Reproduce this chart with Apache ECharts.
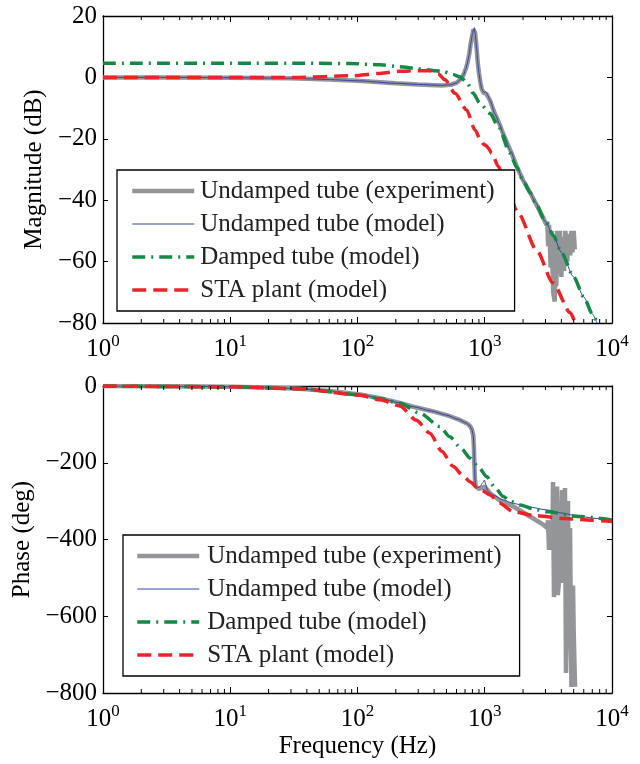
<!DOCTYPE html>
<html><head><meta charset="utf-8">
<script src="https://cdn.jsdelivr.net/npm/echarts@6/dist/echarts.min.js"></script>
<style>html,body{margin:0;padding:0;background:#fff}#c{width:640px;height:764px}</style>
</head><body><div id="c"></div>
<script>
const seriesNames = ['Undamped tube (experiment)', 'Undamped tube (model)', 'Damped tube (model)', 'STA plant (model)'];
const magTicks = [-80, 20, 20];      // min, max, interval
const phaseTicks = [-800, 0, 200];
const minorTickFreqs = [2,3,4,5,6,7,8,9,20,30,40,50,60,70,80,90,200,300,400,500,600,700,800,900,2000,3000,4000,5000,6000,7000,8000,9000];

// Magnitude (dB) vs frequency (Hz)
const magExp = [[1,0],[3,0],[10,-0.1],[30,-0.3],[60,-0.7],[100,-1.1],[200,-1.9],[300,-2.3],[460,-2.6],[540,-2.4],[600,-1.8],[650,-0.5],[680,0.8],[710,2.8],[730,4.6],[755,7.5],[775,11],[800,14],[815,15.6],[828,16.2],[840,14.5],[852,12],[865,9],[880,5],[900,1.5],[925,-1.8],[946,-3.8],[975,-4.9],[995,-5.2],[1010,-5.0],[1030,-5.4],[1060,-6.3],[1100,-7.5],[1205,-12],[1300,-15],[1400,-18.5],[1600,-24],[1783,-29],[2000,-33.5],[2270,-37.5],[2480,-40.5],[2900,-46],[3050,-48],[3100,-47],[3150,-55],[3200,-48],[3300,-62],[3350,-50],[3450,-70],[3550,-73],[3600,-52],[3650,-68],[3700,-50],[3800,-64],[3900,-50],[4000,-65],[4100,-52],[4200,-63],[4300,-50],[4450,-60],[4550,-51],[4700,-58],[4800,-50],[4900,-57],[5000,-50],[5100,-56]];
const magModel = [[1,0],[3,0],[10,-0.1],[30,-0.3],[60,-0.7],[100,-1.1],[200,-1.9],[300,-2.3],[460,-2.6],[540,-2.4],[600,-1.8],[650,-0.5],[680,0.8],[710,2.8],[730,4.6],[755,7.5],[775,11],[800,14],[815,15.6],[828,16.2],[840,14.5],[852,12],[865,9],[880,5],[900,1.5],[925,-1.8],[946,-3.8],[975,-4.7],[995,-5.0],[1010,-4.6],[1030,-4.9],[1060,-6],[1100,-7.5],[1205,-12],[1300,-15],[1400,-18.5],[1600,-24],[1783,-29],[2000,-33.5],[2270,-37.5],[2480,-40.5],[3000,-47],[3460,-51.5],[4000,-57],[5000,-65],[6000,-71.5],[7000,-77],[7620,-80]];
const magDamped = [[1,4.6],[10,4.6],[50,4.6],[90,4.5],[150,4.1],[215,3.5],[300,2.8],[400,2.2],[470,1.9],[560,1.0],[635,0.2],[720,-1.4],[812,-5.2],[915,-8.4],[1100,-11.7],[1280,-16],[1580,-24.7],[1783,-29.3],[2000,-33.5],[2270,-37.5],[2480,-40.5],[3000,-47],[3460,-51.5],[4000,-57],[5000,-65],[6000,-71.5],[7000,-77],[7620,-80]];
const magSTA = [[1,0],[10,0],[35,0],[87,0.5],[150,1.3],[215,2.0],[300,2.2],[370,2.2],[430,1.2],[487,-0.8],[584,-5.2],[720,-10.6],[838,-17.1],[930,-20.5],[980,-21.8],[1030,-22.3],[1067,-23.1],[1135,-24.7],[1280,-29],[1400,-32.5],[1837,-44.3],[2550,-56.2],[3440,-67],[4700,-76.7],[5140,-80]];

// Phase (deg) vs frequency (Hz)
const phaseExp = [[1,0],[3,-0.6],[6,-1.2],[10,-2],[20,-4],[35,-7],[60,-13],[105,-22],[150,-32],[215,-44],[275,-54],[380,-65],[502,-76],[620,-87],[720,-97],[760,-103],[790,-112],[812,-128],[822,-160],[830,-210],[838,-245],[850,-262],[900,-268],[960,-265],[1000,-262],[1100,-280],[1300,-297],[1680,-314],[2270,-340],[2600,-352],[2900,-362],[3100,-370],[3140,-350],[3200,-427],[3300,-380],[3400,-400],[3440,-250],[3500,-550],[3600,-420],[3700,-262],[3750,-545],[3900,-480],[4050,-271],[4100,-513],[4200,-470],[4270,-266],[4350,-748],[4450,-600],[4510,-300],[4600,-680],[4680,-370],[4800,-784],[4940,-520],[5000,-640],[5120,-784]];
const phaseModel = [[1,0],[3,-0.6],[6,-1.2],[10,-2],[20,-4],[35,-7],[60,-13],[105,-22],[150,-32],[215,-44],[275,-54],[380,-65],[502,-76],[620,-87],[720,-97],[760,-103],[790,-112],[812,-128],[822,-160],[830,-210],[838,-245],[850,-260],[880,-265],[920,-262],[960,-253],[995,-245],[1020,-258],[1050,-272],[1100,-279],[1160,-284],[1400,-297],[1680,-306],[2200,-315],[3100,-323],[4000,-331],[5600,-340],[7500,-345],[10000,-349]];
const phaseDamped = [[1,0],[10,-2],[35,-7],[105,-23],[150,-33],[215,-45],[310,-71],[445,-106],[530,-132],[650,-162],[770,-188],[900,-213],[1035,-236],[1200,-264],[1400,-288],[1600,-301],[1900,-310],[2400,-320],[3100,-328],[5600,-340],[10000,-349]];
const phaseSTA = [[1,0],[10,-2],[35,-7],[105,-24],[150,-36],[215,-52],[290,-89],[370,-123],[460,-170],[565,-210],[680,-235],[770,-250],[865,-264],[950,-272],[1100,-284],[1300,-305],[1680,-328],[2500,-338],[4170,-345],[7000,-350],[10000,-353]];

const F = 'Liberation Serif';
const colors = ['#939598', '#3446a8', '#138a45', '#ee2229'];
const widths = [4.5, 1, 3.5, 3.5];
const dashes = ['solid', 'solid', [13, 6, 2, 6], [14, 7]];
const smooths = [false, 0.25, 0.25, 0.25];

const minus = v => String(v).replace('-', '\u2212');
const xLabel = {
  formatter: v => '{a|10}{b|' + Math.round(Math.log10(v)) + '}',
  margin: 10,
  showMinLabel: true, showMaxLabel: true,
  rich: {
    a: { fontSize: 25, fontFamily: F, color: '#000', verticalAlign: 'bottom' },
    b: { fontSize: 17, fontFamily: F, color: '#000', verticalAlign: 'bottom', padding: [0, 0, 12, 0] }
  }
};
const axLine = { onZero: false, lineStyle: { color: '#000', width: 1.3 } };

function xAx(grid, pos, labels, name) {
  return {
    type: 'log', logBase: 10, min: 1, max: 10000, gridIndex: grid, position: pos,
    axisLine: axLine, axisTick: { inside: true, length: 6, lineStyle: { color: '#000', width: 1 } },
    axisLabel: labels ? xLabel : { show: false }, splitLine: { show: false },
    name: name || '', nameLocation: 'middle', nameGap: 41,
    nameTextStyle: { fontSize: 25, fontFamily: F, color: '#000' }
  };
}
function yAx(grid, pos, t, labels, name, gap) {
  return {
    type: 'value', min: t[0], max: t[1], interval: t[2], gridIndex: grid, position: pos,
    axisLine: axLine, axisTick: { inside: true, length: 5, lineStyle: { color: '#000', width: 1 } },
    axisLabel: labels ? { formatter: minus, fontSize: 25, fontFamily: F, color: '#000', margin: 6 } : { show: false },
    splitLine: { show: false },
    name: name || '', nameLocation: 'middle', nameGap: gap || 0,
    nameTextStyle: { fontSize: 25, fontFamily: F, color: '#000' }
  };
}

function lineSeries(i, data, xi, yi) {
  return {
    type: 'line', name: seriesNames[i], data: data, xAxisIndex: xi, yAxisIndex: yi,
    symbol: 'none', showSymbol: false, smooth: smooths[i], smoothMonotone: 'x',
    lineStyle: { color: colors[i], width: widths[i], type: dashes[i] },
    itemStyle: { color: colors[i] }, z: 2 + i, clip: true
  };
}
function minorSeries(xi, yi, t) {
  return {
    type: 'custom', xAxisIndex: xi, yAxisIndex: yi, silent: true, z: 10,
    data: minorTickFreqs.map(f => [f, t[0]]),
    renderItem: (params, api) => {
      const f = api.value(0);
      const b = api.coord([f, t[0]]);
      const tp = api.coord([f, t[1]]);
      return { type: 'group', children: [
        { type: 'line', shape: { x1: b[0], y1: b[1], x2: b[0], y2: b[1] - 4 }, style: { stroke: '#000', lineWidth: 1 } },
        { type: 'line', shape: { x1: tp[0], y1: tp[1], x2: tp[0], y2: tp[1] + 4 }, style: { stroke: '#000', lineWidth: 1 } }
      ] };
    }
  };
}
function legend(left, top, pad, tpad) {
  return {
    data: seriesNames, orient: 'vertical', left: left, top: top,
    padding: pad, itemWidth: 62, itemHeight: 14, itemGap: 5,
    borderColor: '#000', borderWidth: 1.3, backgroundColor: '#fff', borderRadius: 0,
    itemStyle: { color: 'rgba(0,0,0,0)', borderWidth: 0, opacity: 0 },
    lineStyle: { width: 'inherit', type: 'inherit', color: 'inherit' },
    textStyle: { fontSize: 25, fontFamily: F, color: '#222', lineHeight: 28, padding: [0, 0, 0, tpad] },
    selectedMode: false, z: 20
  };
}

const chart = echarts.init(document.getElementById('c'), null, { renderer: 'canvas' });
chart.setOption({
  animation: false,
  backgroundColor: '#fff',
  textStyle: { fontFamily: F },
  grid: [
    { left: 103, top: 16, width: 509, height: 307 },
    { left: 103, top: 386, width: 509, height: 307 }
  ],
  xAxis: [xAx(0, 'bottom', true), xAx(0, 'top', false), xAx(1, 'bottom', true, 'Frequency (Hz)'), xAx(1, 'top', false)],
  yAxis: [yAx(0, 'left', magTicks, true, 'Magnitude (dB)', 53), yAx(0, 'right', magTicks, false),
          yAx(1, 'left', phaseTicks, true, 'Phase (deg)', 64), yAx(1, 'right', phaseTicks, false)],
  legend: [legend(117, 170, [7, 20, 7, 13], 1), legend(123, 535, [7, 18, 7, 12], 3)],
  series: [
    lineSeries(0, magExp, 0, 0), lineSeries(1, magModel, 0, 0), lineSeries(2, magDamped, 0, 0), lineSeries(3, magSTA, 0, 0),
    lineSeries(0, phaseExp, 2, 2), lineSeries(1, phaseModel, 2, 2), lineSeries(2, phaseDamped, 2, 2), lineSeries(3, phaseSTA, 2, 2),
    minorSeries(0, 0, magTicks), minorSeries(2, 2, phaseTicks)
  ]
});
</script></body></html>
